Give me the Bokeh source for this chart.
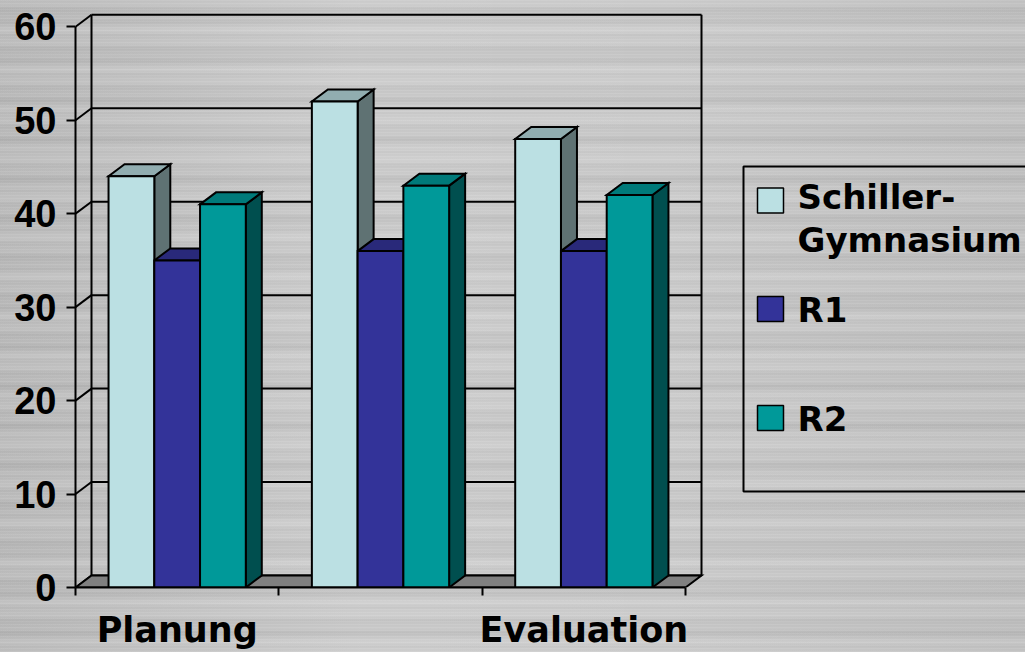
from bokeh.plotting import figure
from bokeh.models import Range1d, FixedTicker
from bokeh.core.properties import value
from bokeh.embed import file_html
from bokeh.resources import INLINE

# ---- data -------------------------------------------------------------
phases = ["Planung", "", "Evaluation"]
series_names = ["Schiller-Gymnasium", "R1", "R2"]
legend_lines = [["Schiller-", "Gymnasium"], ["R1"], ["R2"]]
schiller = [44, 52, 48]
r1 = [35, 36, 36]
r2 = [41, 43, 42]
y_ticks = [0, 10, 20, 30, 40, 50, 60]

# ---- styling ----------------------------------------------------------
front_colors = ["#BBE0E3", "#333399", "#009999"]
top_colors = ["#91ADB0", "#29297A", "#007A7A"]
side_colors = ["#5F7273", "#1F1F5C", "#004F4F"]
floor_color = "#808080"

# plot geometry (pixels)
FRAME_LEFT, FRAME_BOTTOM = 75, 587
FRAME_W, FRAME_H = 950, 587
PX_X = 610 / 3.0          # pixels per category
PX_Y = 9.345              # pixels per value unit
DX = 16 / PX_X            # depth offset of the 3-D box
DY = 12 / PX_Y
BW = 0.225                # width of one column (in categories)


def xd(px):
    return (px - FRAME_LEFT) / PX_X


def yd(py):
    return (FRAME_BOTTOM - py) / PX_Y


p = figure(frame_width=FRAME_W, frame_height=FRAME_H,
           x_range=Range1d(0, FRAME_W / PX_X), y_range=Range1d(0, FRAME_H / PX_Y),
           output_backend="svg", toolbar_location=None,
           min_border_left=FRAME_LEFT, min_border_right=0,
           min_border_top=0, min_border_bottom=65)
p.background_fill_alpha = 0
p.border_fill_alpha = 0
p.outline_line_color = None
p.xgrid.visible = False
p.ygrid.visible = False

# brushed aluminium backdrop
p.styles = {
    "background-color": "#c9c9c9",
    "background-image": (
        "repeating-linear-gradient(180deg, rgba(255,255,255,0.08) 0px, rgba(255,255,255,0) 1px, "
        "rgba(0,0,0,0.03) 2px, rgba(255,255,255,0) 3px),"
        "repeating-linear-gradient(180deg, rgba(255,255,255,0) 0px, rgba(255,255,255,0.08) 5px, "
        "rgba(0,0,0,0.03) 9px, rgba(255,255,255,0) 13px),"
        "repeating-linear-gradient(180deg, rgba(0,0,0,0) 0px, rgba(0,0,0,0.04) 17px, "
        "rgba(255,255,255,0.07) 29px, rgba(0,0,0,0) 41px),"
        "linear-gradient(90deg, rgba(0,0,0,0.06) 0%, rgba(255,255,255,0.10) 35%, "
        "rgba(255,255,255,0.06) 65%, rgba(0,0,0,0.03) 100%)"
    ),
}

n_cat = len(phases)
top_val = y_ticks[-1]

# ---- walls of the 3-D box ---------------------------------------------
wall_xs, wall_ys = [], []
for t in y_ticks:
    wall_xs.append([DX, n_cat + DX]); wall_ys.append([t + DY, t + DY])   # back wall grid
    wall_xs.append([0, DX]); wall_ys.append([t, t + DY])                 # side wall edge
wall_xs.append([DX, DX]); wall_ys.append([DY, top_val + DY])
wall_xs.append([n_cat + DX, n_cat + DX]); wall_ys.append([DY, top_val + DY])
p.multi_line(wall_xs, wall_ys, line_color="black", line_width=2)

# floor
p.patch([0, n_cat, n_cat + DX, DX], [0, 0, DY, DY],
        fill_color=floor_color, line_color="black", line_width=2, line_join="miter")

# ---- 3-D columns --------------------------------------------------------
values = [schiller, r1, r2]
side_x, side_y, side_c = [], [], []
top_x, top_y, top_c = [], [], []
fl, fr, ft, fc = [], [], [], []
for i in range(n_cat):
    for k, vals in enumerate(values):
        v = vals[i]
        left = i + 0.5 + (k - 1) * BW - BW / 2
        right = left + BW
        side_x.append([right, right, right + DX, right + DX])
        side_y.append([0, v, v + DY, DY])
        side_c.append(side_colors[k])
        top_x.append([left, right, right + DX, left + DX])
        top_y.append([v, v, v + DY, v + DY])
        top_c.append(top_colors[k])
        fl.append(left); fr.append(right); ft.append(v); fc.append(front_colors[k])

p.patches(side_x, side_y, fill_color=side_c, line_color="black", line_width=2, line_join="miter")
p.patches(top_x, top_y, fill_color=top_c, line_color="black", line_width=2, line_join="miter")
p.quad(left=fl, right=fr, top=ft, bottom=0, fill_color=fc,
       line_color="black", line_width=2, line_join="miter")

# ---- axes -------------------------------------------------------------
ya = p.yaxis[0]
ya.ticker = FixedTicker(ticks=y_ticks, minor_ticks=[])
ya.bounds = (0, top_val)
ya.axis_line_width = 2
ya.major_tick_line_width = 2
ya.major_tick_in = 0
ya.major_tick_out = 9
ya.major_label_standoff = 10
ya.major_label_text_font = "Liberation Sans"
ya.major_label_text_font_style = "bold"
ya.major_label_text_font_size = "38px"
ya.major_label_text_color = "black"

xa = p.xaxis[0]
centers = [i + 0.5 for i in range(n_cat)]
xa.ticker = FixedTicker(ticks=centers, minor_ticks=list(range(n_cat + 1)))
xa.bounds = (0, n_cat)
xa.major_label_overrides = {c: name for c, name in zip(centers, phases)}
xa.axis_line_width = 2
xa.major_tick_line_color = None
xa.major_tick_in = 0
xa.major_tick_out = 8
xa.minor_tick_in = 0
xa.minor_tick_out = 8
xa.minor_tick_line_width = 2
xa.major_label_standoff = 14
xa.major_label_text_font = "DejaVu Sans"
xa.major_label_text_font_style = "bold"
xa.major_label_text_font_size = "35px"
xa.major_label_text_color = "black"

# ---- legend -------------------------------------------------------------
p.quad(left=xd(743), right=xd(1040), top=yd(166), bottom=yd(491),
       fill_alpha=0, line_color="black", line_width=2)
swatch_centres = [200, 308.5, 417.5]
p.quad(left=[xd(757)] * 3, right=[xd(783)] * 3,
       top=[yd(c - 12.5) for c in swatch_centres],
       bottom=[yd(c + 12.5) for c in swatch_centres],
       fill_color=front_colors, line_color="black", line_width=1.5)
txt, tx, ty = [], [], []
first_baselines = [196, 309, 418]
for lines, base in zip(legend_lines, first_baselines):
    for j, line in enumerate(lines):
        txt.append(line); tx.append(xd(797)); ty.append(yd(base + 43 * j))
p.text(x=tx, y=ty, text=txt, text_font=value("DejaVu Sans"), text_font_style="bold",
       text_font_size="34px", text_baseline="alphabetic", text_color="black")

open("out.html", "w").write(file_html(p, INLINE))
